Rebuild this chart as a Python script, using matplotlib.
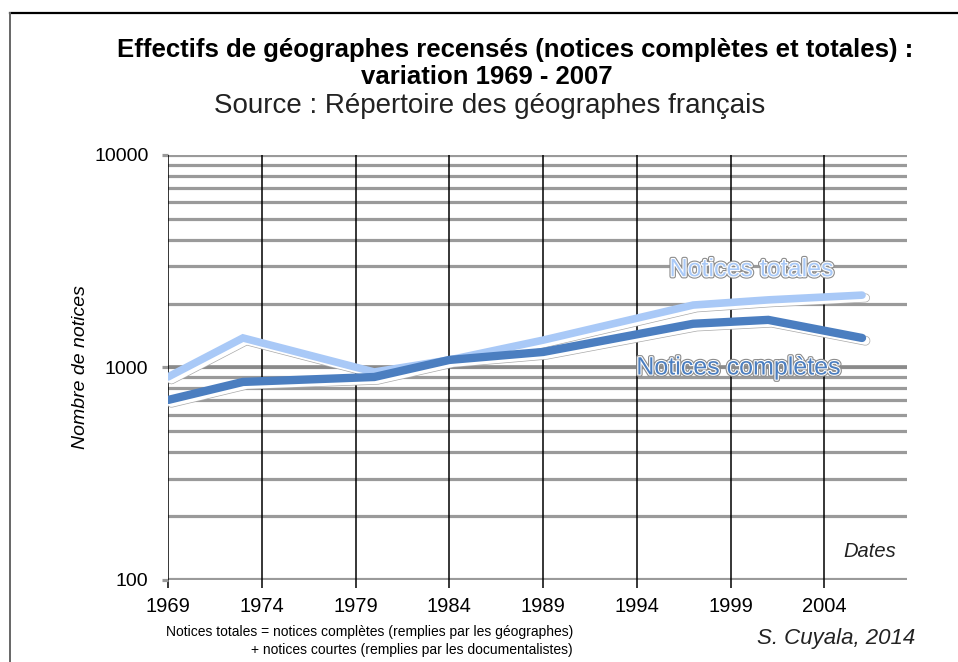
import numpy as np
import matplotlib.pyplot as plt
import matplotlib.patheffects as pe
from matplotlib.lines import Line2D

plt.rcParams['font.family'] = ['Liberation Sans', 'DejaVu Sans']

# data
years_tot = [1969, 1973, 1980, 1984, 1989, 1997, 2001, 2006]
totales = [902, 1377, 952, 1085, 1345, 1967, 2080, 2190]
years_comp = [1969, 1973, 1980, 1984, 1989, 1997, 2001, 2006]
completes = [703, 855, 902, 1085, 1183, 1606, 1675, 1377]

xticks = [1969, 1974, 1979, 1984, 1989, 1994, 1999, 2004]

fig = plt.figure(figsize=(9.58, 6.62), dpi=100)
ax = fig.add_axes([0.1753, 0.1239, 0.7715, 0.642])

ax.set_yscale('log')
ax.set_ylim(100, 10000)
ax.set_xlim(1969, 2008.4)

# horizontal grid: every log step
for dec in [100, 1000]:
    for m in range(1, 10):
        v = dec * m
        if v > 100:
            ax.axhline(v, color='#9a9a9a', lw=2.3, zorder=1)
ax.axhline(10000, color='#9a9a9a', lw=2.3, zorder=1)
ax.axhline(100, color='#9a9a9a', lw=3, zorder=1)
ax.axhline(1000, color='#8a8a8a', lw=2.6, zorder=1)
for x in xticks:
    ax.axvline(x, color='black', lw=1.1, zorder=2)

for s in ax.spines.values():
    s.set_visible(False)

ax.set_xticks(xticks)
ax.set_xticklabels([str(x) for x in xticks], fontsize=14.5)
ax.tick_params(axis='x', length=6, width=1.1, color='black', pad=6)
ax.set_yticks([100, 1000, 10000])
ax.set_yticklabels(['100', '1000', '10000'], fontsize=14)
ax.set_yticks([], minor=True)
ax.tick_params(axis='y', length=4, width=2.3, color='#9a9a9a', pad=10)


def shadow(lw):
    return [pe.SimpleLineShadow(offset=(2.5, -2.0), shadow_color='#aaaaaa', alpha=1, linewidth=lw + 1.0),
            pe.SimpleLineShadow(offset=(2.5, -2.0), shadow_color='white', alpha=1, linewidth=lw),
            pe.Normal()]


ax.plot(years_tot, totales, color='#a9c9f7', lw=5.5, solid_capstyle='round',
        solid_joinstyle='miter', zorder=4, path_effects=shadow(5.5))
ax.plot(years_comp, completes, color='#4b7ec0', lw=6, solid_capstyle='round',
        solid_joinstyle='miter', zorder=5, path_effects=shadow(6))

label_fx = [pe.Stroke(linewidth=3.2, foreground='#8c8c8c'),
            pe.Stroke(linewidth=1.6, foreground='white'), pe.Normal()]
ax.text(2000.1, 2900, 'Notices totales', color='#a9c9f7', fontsize=18,
        ha='center', va='center', zorder=6, path_effects=label_fx)
ax.text(1999.4, 1000, 'Notices complètes', color='#4b7ec0', fontsize=18,
        ha='center', va='center', zorder=6, path_effects=label_fx)

ax.text(0.985, 0.045, 'Dates', transform=ax.transAxes, fontsize=14.5,
        style='italic', ha='right', va='bottom', color='#222222')

ax.set_ylabel('Nombre de notices', fontsize=14, style='italic', labelpad=4)

fig.text(0.5376, 0.925, 'Effectifs de géographes recensés (notices complètes et totales) :',
         fontsize=18.5, weight='bold', ha='center', va='center')
fig.text(0.508, 0.883, 'variation 1969 - 2007', fontsize=18.5, weight='bold',
         ha='center', va='center')
fig.text(0.511, 0.84, 'Source : Répertoire des géographes français', fontsize=20,
         ha='center', va='center', color='#222222')

fig.text(0.598, 0.008, 'Notices totales = notices complètes (remplies par les géographes)\n'
         '+ notices courtes (remplies par les documentalistes)',
         fontsize=10, ha='right', va='bottom', multialignment='right', linespacing=1.3)
fig.text(0.955, 0.035, 'S. Cuyala, 2014', fontsize=16, style='italic',
         ha='right', va='center', color='#222222')

# frame edges of the original page
fig.add_artist(Line2D([0.0108, 1.0], [0.981, 0.981], color='black', lw=1.6))
fig.add_artist(Line2D([0.0108, 0.0108], [0.0, 0.981], color='#666666', lw=1.4))

fig.savefig('out.png', dpi=100)
